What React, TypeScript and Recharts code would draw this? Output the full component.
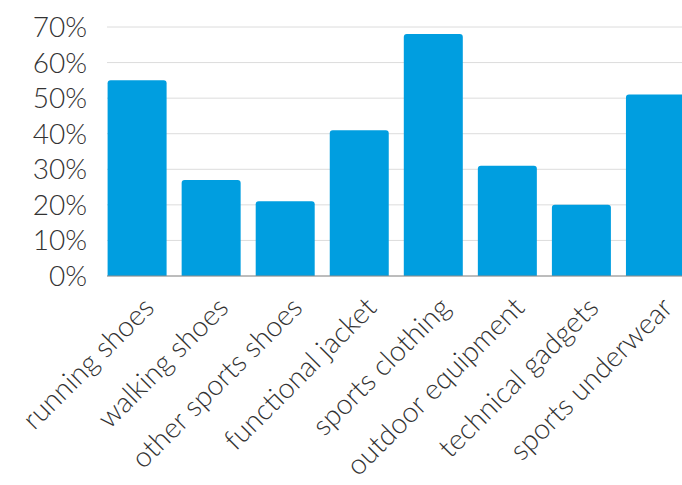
import { BarChart, Bar, XAxis, YAxis, CartesianGrid } from 'recharts';

const categories = [
  'running shoes',
  'walking shoes',
  'other sports shoes',
  'functional jacket',
  'sports clothing',
  'outdoor equipment',
  'technical gadgets',
  'sports underwear',
];
const shares = [55, 27, 21, 41, 68, 31, 20, 51];
const yTicks = [0, 10, 20, 30, 40, 50, 60, 70];

const data = categories.map((name, i) => ({ name, share: shares[i] }));

const FONT = 'Lato, "Open Sans", sans-serif';
const TEXT = '#333';

const AngledTick = ({ x, y, payload }: any) => (
  <g transform={`translate(${x + 5},${y})`}>
    <text
      transform="rotate(-45)"
      textAnchor="end"
      dy="0.71em"
      fill={TEXT}
      fontFamily={FONT}
      fontWeight={300}
      fontSize={28.5}
    >
      {payload.value}
    </text>
  </g>
);

const App = () => {
  return (
    <div style={{ position: 'fixed', left: 0, top: 0, width: 682, height: 485, overflow: 'hidden', background: '#fff' }}>
      <BarChart
        width={692}
        height={485}
        data={data}
        margin={{ top: 27, right: 0, bottom: 0, left: 0 }}
      >
        <CartesianGrid vertical={false} stroke="#dcdcdc" />
        <XAxis
          dataKey="name"
          interval={0}
          padding={{ left: -7.4, right: 0 }}
          axisLine={{ stroke: '#8c8c8c' }}
          tickLine={false}
          tickSize={0}
          tickMargin={19}
          height={209}
          tick={<AngledTick />}
        />
        <YAxis
          domain={[0, 70]}
          ticks={yTicks}
          interval={0}
          tickFormatter={(v: number) => `${v}%`}
          axisLine={false}
          tickLine={false}
          tickSize={0}
          tickMargin={20}
          width={107}
          tick={{ fill: TEXT, fontFamily: FONT, fontWeight: 300, fontSize: 28 }}
        />
        <Bar dataKey="share" fill="#009ee0" barSize={59} radius={[3, 3, 0, 0]} isAnimationActive={false} />
      </BarChart>
    </div>
  );
};

export default App;
